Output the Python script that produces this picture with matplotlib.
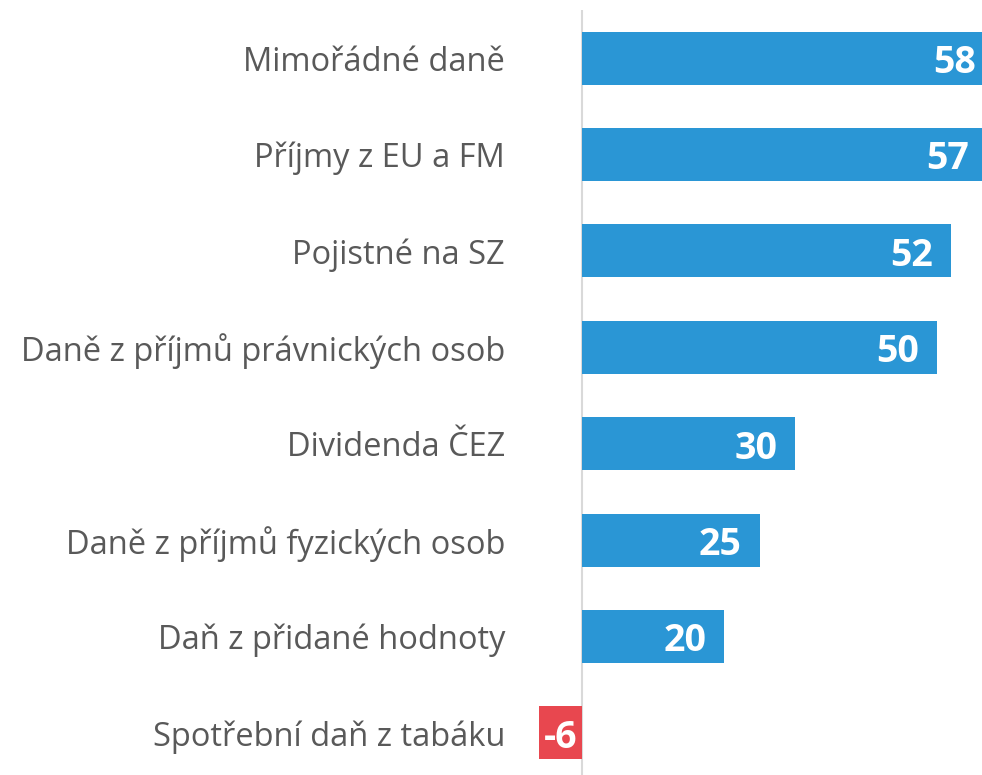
import matplotlib.pyplot as plt

categories = ["Mimořádné daně", "Příjmy z EU a FM", "Pojistné na SZ",
              "Daně z příjmů právnických osob", "Dividenda ČEZ",
              "Daně z příjmů fyzických osob", "Daň z přidané hodnoty",
              "Spotřební daň z tabáku"]
values = [58, 57, 52, 50, 30, 25, 20, -6]

plt.rcParams['font.family'] = ['Open Sans', 'DejaVu Sans']

fig = plt.figure(figsize=(9.82, 7.75), dpi=100)
ax = fig.add_axes([530 / 982, -6 / 775, 1 - 530 / 982, 1 - 4 / 775])

colors = ['#2A96D5' if v >= 0 else '#E8474F' for v in values]
y = list(range(len(values)))
ax.barh(y, values, height=0.55, color=colors)

xmax = (982 - 582) / 7.1
ax.set_xlim(-(582 - 530) / 7.1, xmax)
ax.set_ylim(len(values) - 0.5, -0.5)
ax.axvline(0, color='#D9D9D9', lw=1.5, zorder=0)

# hodnoty uvnitř konce sloupců
for i, v in enumerate(values):
    if v >= 0:
        ax.text(v - 2.5, i + 0.05, str(v), ha='right', va='center',
                color='white', fontsize=27, fontweight='bold')
    else:
        ax.text(v / 2, i + 0.05, str(v), ha='center', va='center',
                color='white', fontsize=27, fontweight='bold')

ax.set_yticks(y)
ax.set_yticklabels(categories, fontsize=23.5, color='#595959')
ax.tick_params(axis='y', length=0, pad=18)
ax.set_xticks([])
for s in ax.spines.values():
    s.set_visible(False)

plt.savefig('out.png', dpi=100)
